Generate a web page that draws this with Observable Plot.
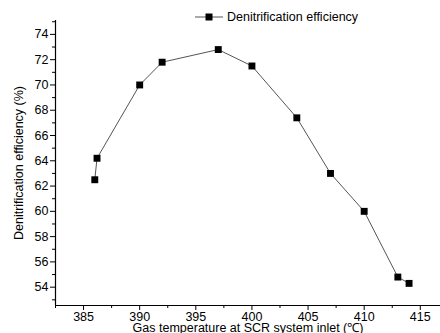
<!DOCTYPE html>
<html><head><meta charset="utf-8">
<script src="https://cdn.jsdelivr.net/npm/d3@7"></script>
<script src="https://cdn.jsdelivr.net/npm/@observablehq/plot@0.6"></script>
<style>
html,body{margin:0;padding:0;background:#fff;}
#wrap{position:relative;width:440px;height:333px;overflow:hidden;font-family:"Liberation Sans",Arial,sans-serif;}
#legend{position:absolute;left:195px;top:10px;font-size:12.5px;color:#000;display:flex;align-items:center;}
</style></head>
<body><div id="wrap"><div id="legend"><svg width="28" height="14"><line x1="0" y1="7" x2="28" y2="7" stroke="#555" stroke-width="1"/><rect x="10.5" y="3.5" width="7" height="7" fill="#000"/></svg><span style="margin-left:4px">Denitrification efficiency</span></div></div>
<script>
const temperature = [386, 386.2, 390, 392, 397, 400, 404, 407, 410, 413, 414];
const efficiency = [62.5, 64.2, 70.0, 71.8, 72.8, 71.5, 67.4, 63.0, 60.0, 54.8, 54.3];
const xTicks = [385, 390, 395, 400, 405, 410, 415];
const yTicks = [54, 56, 58, 60, 62, 64, 66, 68, 70, 72, 74];
const xMinor = [382.5, 387.5, 392.5, 397.5, 402.5, 407.5, 412.5];
const yMinor = [53, 55, 57, 59, 61, 63, 65, 67, 69, 71, 73, 75];
const seriesName = "Denitrification efficiency";
const xLabel = "Gas temperature at SCR system inlet (℃)";
const yLabel = "Denitrification efficiency (%)";
const xDomain = [382.5, 416.8];
const yDomain = [52.55, 75.1];

const data = temperature.map((t, i) => ({t, e: efficiency[i]}));

const chart = Plot.plot({
  width: 440, height: 333,
  marginLeft: 55, marginTop: 20, marginBottom: 28, marginRight: 0,
  style: {fontFamily: '"Liberation Sans", Arial, sans-serif', fontSize: "12.5px", color: "#000", background: "#fff", overflow: "visible"},
  x: {domain: xDomain, axis: null},
  y: {domain: yDomain, axis: null},
  marks: [
    Plot.axisX(xTicks, {tickSize: 5, tickPadding: 2, fontSize: 12.5, label: null, stroke: "#000"}),
    Plot.axisX(xMinor, {tickSize: 3, text: null, label: null, stroke: "#000"}),
    Plot.axisY(yTicks, {tickSize: 5, tickPadding: 2, fontSize: 12.5, label: null, stroke: "#000"}),
    Plot.axisY(yMinor, {tickSize: 3, text: null, label: null, stroke: "#000"}),
    Plot.ruleX([xDomain[0]], {stroke: "#000", strokeWidth: 1.2}),
    Plot.ruleY([yDomain[0]], {stroke: "#000", strokeWidth: 1.2}),
    Plot.line(data, {x: "t", y: "e", stroke: "#555", strokeWidth: 1}),
    Plot.dot(data, {x: "t", y: "e", symbol: "square", r: 3.9, fill: "#000", stroke: null}),
    Plot.text([xLabel], {frameAnchor: "bottom", dy: 26, fontSize: 12.5, text: d => d, fill: "#000"}),
    Plot.text([yLabel], {frameAnchor: "left", dx: -37, rotate: -90, textAnchor: "middle", fontSize: 12.5, text: d => d, fill: "#000"})
  ]
});
document.getElementById("wrap").prepend(chart);
</script></body></html>
